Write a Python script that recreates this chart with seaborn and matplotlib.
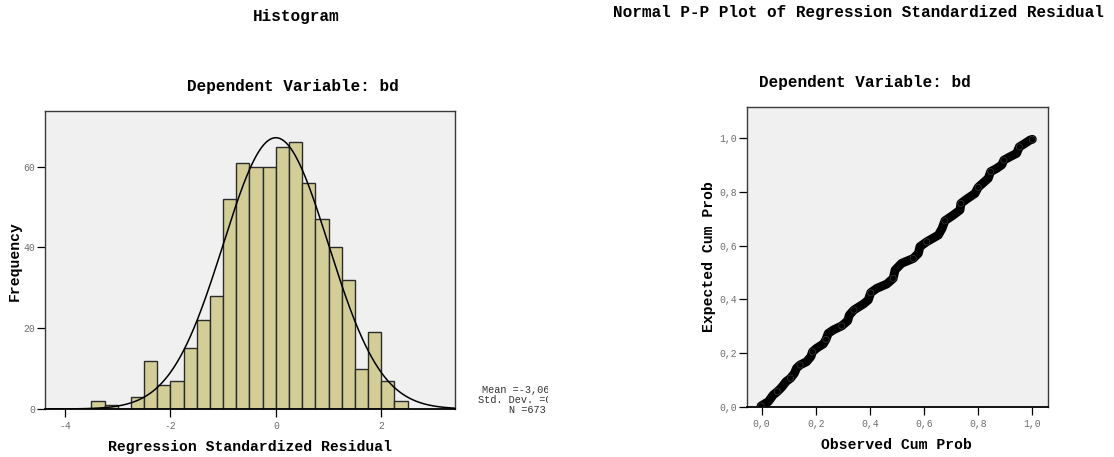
import numpy as np
import pandas as pd
import matplotlib
matplotlib.use("Agg")
import matplotlib.pyplot as plt
from matplotlib.transforms import Bbox
import seaborn as sns

# ---------------- data ----------------
bin_start = -3.5
bin_width = 0.25
hist_counts = [2, 1, 0, 3, 12, 6, 7, 15, 22, 28, 52, 61, 60, 60, 65, 66,
               56, 47, 40, 32, 10, 19, 7, 2]
resid_mean = -3.06e-16
resid_sd = 0.999
resid_n = 673

hist_xticks = [-4, -2, 0, 2]
hist_xticklabels = ["-4", "-2", "0", "2"]
hist_yticks = [0, 20, 40, 60]
hist_yticklabels = ["0", "20", "40", "60"]

pp_observed = [-0.002, 0.025, 0.043, 0.058, 0.074, 0.090, 0.107, 0.121, 0.129,
               0.142, 0.166, 0.182, 0.188, 0.203, 0.228, 0.238, 0.246, 0.265,
               0.296, 0.318, 0.324, 0.341, 0.376, 0.394, 0.403, 0.425, 0.462,
               0.486, 0.493, 0.517, 0.560, 0.579, 0.585, 0.610, 0.653, 0.667,
               0.677, 0.708, 0.733, 0.736, 0.757, 0.788, 0.800, 0.819, 0.837,
               0.846, 0.868, 0.887, 0.895, 0.917, 0.942, 0.952, 0.973, 0.991,
               1.000]
pp_expected = [0.005, 0.021, 0.046, 0.058, 0.074, 0.095, 0.108, 0.126, 0.145,
               0.157, 0.169, 0.188, 0.206, 0.219, 0.235, 0.252, 0.274, 0.287,
               0.302, 0.321, 0.342, 0.361, 0.383, 0.398, 0.425, 0.441, 0.457,
               0.478, 0.509, 0.534, 0.552, 0.571, 0.596, 0.614, 0.639, 0.664,
               0.692, 0.713, 0.732, 0.756, 0.772, 0.793, 0.816, 0.833, 0.849,
               0.874, 0.886, 0.899, 0.917, 0.929, 0.942, 0.966, 0.979, 0.991,
               0.994]
pp_ticks = [0.0, 0.2, 0.4, 0.6, 0.8, 1.0]
pp_ticklabels = ["0,0", "0,2", "0,4", "0,6", "0,8", "1,0"]

# ---------------- style ----------------
sns.set_theme(style="white")
mono = ["Liberation Mono", "DejaVu Sans Mono"]
plt.rcParams["font.family"] = mono

W, H = 1114, 457
fig = plt.figure(figsize=(W / 100, H / 100), dpi=100)

def fx(px):
    return px / W

def fy(py):
    return 1 - py / H

bar_color = "#D3CE97"
panel_bg = "#F0F0F0"
tick_col = "#6E6E6E"
spine_col = "#3A3A3A"

# ---------------- histogram ----------------
axh = fig.add_axes([fx(45), fy(409), fx(455) - fx(45), fy(111) - fy(409)])
axh.set_facecolor(panel_bg)
n_bins = len(hist_counts)
centers = bin_start + bin_width * (np.arange(n_bins) + 0.5)
hdf = pd.DataFrame({"x": centers, "w": hist_counts})
sns.histplot(data=hdf, x="x", weights="w", binwidth=bin_width,
             binrange=(bin_start, bin_start + bin_width * n_bins),
             color=bar_color, edgecolor="#2b2b2b", linewidth=1.0, alpha=1.0, ax=axh)

xmin, xmax = -4.38, 3.40
xs = np.linspace(xmin, xmax, 400)
curve = resid_n * bin_width * np.exp(-0.5 * ((xs - resid_mean) / resid_sd) ** 2) / (resid_sd * np.sqrt(2 * np.pi))
sns.lineplot(x=xs, y=curve, color="black", linewidth=1.1, ax=axh)

axh.set_xlim(xmin, xmax)
axh.set_ylim(0, 73.8)
axh.set_xticks(hist_xticks)
axh.set_xticklabels(hist_xticklabels)
axh.set_yticks(hist_yticks)
axh.set_yticklabels(hist_yticklabels)
axh.set_xlabel("")
axh.set_ylabel("")

# ---------------- P-P plot ----------------
axp = fig.add_axes([fx(746.7), fy(407.3), fx(1048.3) - fx(746.7), fy(106.7) - fy(407.3)])
axp.set_facecolor(panel_bg)
ppdf = pd.DataFrame({"obs": pp_observed, "exp": pp_expected})
sns.lineplot(data=ppdf, x="obs", y="exp", sort=False, color="black",
             linewidth=6.4, ax=axp, solid_capstyle="round", solid_joinstyle="round")
sns.scatterplot(data=ppdf.iloc[::3], x="obs", y="exp", marker="o", s=20,
                facecolor="none", edgecolor="#3c3c3c", linewidth=0.5, ax=axp, zorder=3)
axp.set_xlim(-0.055, 1.059)
axp.set_ylim(0, 1.115)
axp.set_xticks(pp_ticks)
axp.set_xticklabels(pp_ticklabels)
axp.set_yticks(pp_ticks)
axp.set_yticklabels(pp_ticklabels)
axp.set_xlabel("")
axp.set_ylabel("")

for ax in (axh, axp):
    for s in ax.spines.values():
        s.set_visible(True)
        s.set_color(spine_col)
        s.set_linewidth(1.0)
    ax.spines["bottom"].set_color("black")
    ax.spines["bottom"].set_linewidth(1.3)
    ax.tick_params(axis="both", which="major", direction="out", length=5.5,
                   width=0.9, color="black", labelsize=7, labelcolor=tick_col,
                   bottom=True, left=True, top=False, right=False)
    ax.tick_params(axis="x", pad=3)
    ax.tick_params(axis="y", pad=1.5)
    for lab in ax.get_xticklabels() + ax.get_yticklabels():
        lab.set_family(mono)

# ---------------- texts ----------------
tkw = dict(family=mono, fontweight="bold", color="black", ha="center", va="center")
fig.text(fx(296), fy(17), "Histogram", fontsize=11.5, **tkw)
fig.text(fx(293), fy(87), "Dependent Variable: bd", fontsize=11.5, **tkw)
fig.text(fx(858), fy(12.5), "Normal P-P Plot of Regression Standardized Residual",
         fontsize=11.5, **tkw)
fig.text(fx(865), fy(83), "Dependent Variable: bd", fontsize=11.5, **tkw)

fig.text(fx(15), fy(261), "Frequency", fontsize=10.6, rotation=90, **tkw)
fig.text(fx(250), fy(447), "Regression Standardized Residual", fontsize=10.6, **tkw)
fig.text(fx(709), fy(257), "Expected Cum Prob", fontsize=10.6, rotation=90, **tkw)
fig.text(fx(896), fy(445), "Observed Cum Prob", fontsize=10.6, **tkw)

mean_str = "{:.2E}".format(resid_mean).replace(".", ",")
stats_txt = "Mean ={}\nStd. Dev. ={}\nN ={}".format(
    mean_str, "{:.3f}".format(resid_sd).replace(".", ","), resid_n)
st = fig.text(fx(527.5), fy(400), stats_txt, fontsize=7.4, family=mono,
              color="#333333", ha="center", va="center", multialignment="center",
              linespacing=1.05)
st.set_clip_box(Bbox.from_extents(0, 0, 548, H))
st.set_clip_on(True)

fig.savefig("out.png", dpi=100, facecolor="white")
